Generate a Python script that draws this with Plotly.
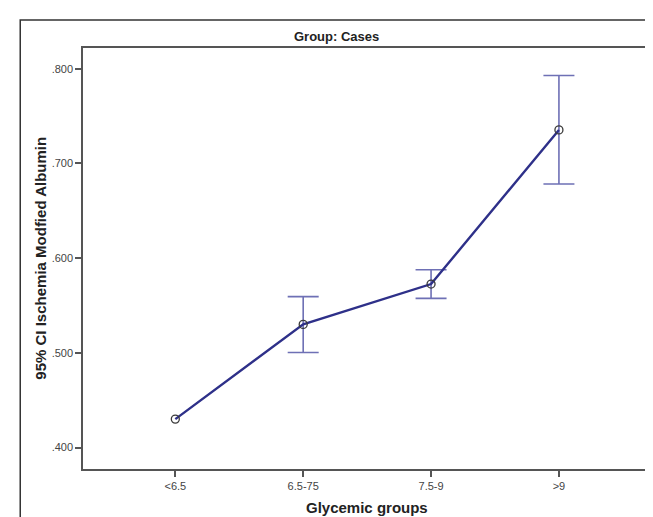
import plotly.graph_objects as go

categories = ["<6.5", "6.5-75", "7.5-9", ">9"]
means = [0.430, 0.530, 0.5726, 0.7354]
ci_upper = [None, 0.5593, 0.5877, 0.7929]
ci_lower = [None, 0.5003, 0.5575, 0.6783]
y_tickvals = [0.4, 0.5, 0.6, 0.7, 0.8]
y_ticktext = [".400", ".500", ".600", ".700", ".800"]

# error bars only where a CI exists
idx = [i for i, u in enumerate(ci_upper) if u is not None]
err_x = idx
err_y = [means[i] for i in idx]
err_plus = [ci_upper[i] - means[i] for i in idx]
err_minus = [means[i] - ci_lower[i] for i in idx]

fig = go.Figure()
fig.add_trace(go.Scatter(
    x=err_x, y=err_y, mode="markers",
    marker=dict(size=1, color="rgba(0,0,0,0)"),
    error_y=dict(type="data", symmetric=False, array=err_plus, arrayminus=err_minus,
                 color="#6E70B5", thickness=1.6, width=15.5),
    showlegend=False, hoverinfo="skip",
))
fig.add_trace(go.Scatter(
    x=list(range(len(categories))), y=means,
    mode="lines+markers",
    line=dict(color="#2E3089", width=2.4),
    marker=dict(symbol="circle-open", color="#3a3a3a", size=8, line=dict(width=1.3)),
    showlegend=False,
))

axis_common = dict(showline=True, linecolor="#555555", linewidth=1.5, mirror=True,
                   ticks="outside", ticklen=6, tickcolor="#555555", tickwidth=1.5,
                   showgrid=False, zeroline=False,
                   tickfont=dict(family="Liberation Sans, Arial", size=11, color="#444444"))

fig.update_layout(
    width=653, height=517,
    margin=dict(l=75, r=8, t=40, b=56),
    paper_bgcolor="white", plot_bgcolor="white",
    xaxis=dict(range=[-0.722, 3.72], tickvals=list(range(len(categories))), ticktext=categories, **axis_common),
    yaxis=dict(range=[0.3773, 0.8219], tickvals=y_tickvals, ticktext=y_ticktext, **axis_common),
    shapes=[dict(type="rect", xref="paper", yref="paper", x0=-0.1105, x1=1.3, y0=-0.3, y1=1.0665,
                 line=dict(color="#333333", width=1.5), fillcolor="rgba(0,0,0,0)", layer="below")],
    annotations=[
        dict(text="<b>Group: Cases</b>", xref="paper", yref="paper", x=0.447, y=1.0285,
             xanchor="center", yanchor="middle", showarrow=False,
             font=dict(family="Liberation Sans Narrow, Liberation Sans, Arial", size=13, color="#222222")),
        dict(text="<b>95% CI Ischemia Modfied Albumin</b>", xref="paper", yref="paper", x=-0.0754, y=0.5,
             xanchor="center", yanchor="middle", textangle=-90, showarrow=False,
             font=dict(family="Liberation Sans, Arial", size=15, color="#222222")),
        dict(text="<b>Glycemic groups</b>", xref="paper", yref="paper", x=0.5, y=-0.0926,
             xanchor="center", yanchor="middle", showarrow=False,
             font=dict(family="Liberation Sans, Arial", size=15, color="#222222")),
    ],
)

fig.write_html("out.html")
